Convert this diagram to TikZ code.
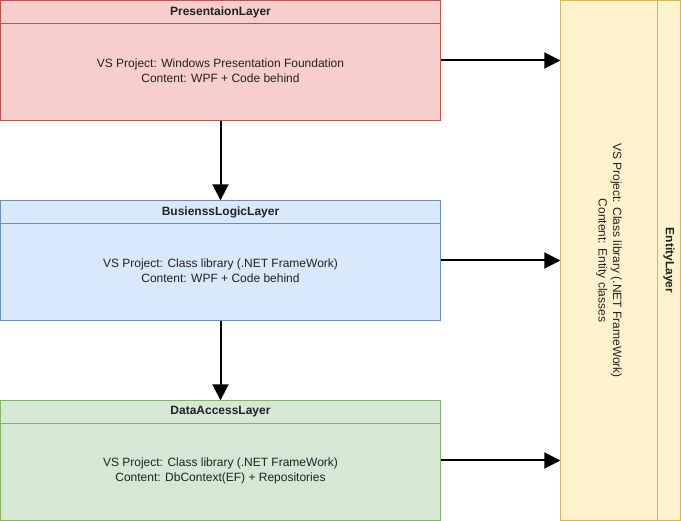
\documentclass[tikz,border=0pt]{standalone}
\usepackage{fontspec}
\setmainfont{Liberation Sans}
\usetikzlibrary{positioning,arrows.meta}

\definecolor{redfill}{HTML}{F8CECC}
\definecolor{redline}{HTML}{B85450}
\definecolor{bluefill}{HTML}{DAE8FC}
\definecolor{blueline}{HTML}{6C8EBF}
\definecolor{greenfill}{HTML}{D5E8D4}
\definecolor{greenline}{HTML}{82B366}
\definecolor{yellowfill}{HTML}{FFF2CC}
\definecolor{yellowline}{HTML}{D6B656}
\definecolor{textgray}{HTML}{222222}

\begin{document}
\begin{tikzpicture}[x=1pt,y=-1pt,
    font=\fontsize{12}{14.5}\selectfont,
    layer/.style={draw,minimum width=440pt,minimum height=120pt,inner sep=0pt},
    title/.style={draw,minimum width=440pt,minimum height=23pt,inner sep=0pt,
      anchor=north,font=\fontsize{12}{14.5}\selectfont\bfseries,text=textgray},
    body/.style={minimum height=94pt,inner sep=0pt,align=center,text=textgray},
    arr/.style={-{Triangle[length=16pt,width=16pt]},line width=2pt}]

  \useasboundingbox (0,0) rectangle (681,521);

  % layers
  \begin{scope}[every node/.style={layer}]
    \node[fill=redfill,draw=redline]     (pl) at (220.5,60.5)  {};
    \node[fill=bluefill,draw=blueline]   (bl) at (220.5,260.5) {};
    \node[fill=greenfill,draw=greenline] (dl) at (220.5,460.5) {};
    \node[fill=yellowfill,draw=yellowline,
          minimum width=120pt,minimum height=520pt] (el) at (620.5,260.5) {};
  \end{scope}

  \node[title,fill=redfill,draw=redline]     (plt) at (pl.north) {PresentaionLayer};
  \node[title,fill=bluefill,draw=blueline]   (blt) at (bl.north) {BusienssLogicLayer};
  \node[title,fill=greenfill,draw=greenline] (dlt) at (dl.north) {DataAccessLayer};

  \node[body,below=0pt of plt] (plb) {VS Project: Windows Presentation Foundation\\Content: WPF + Code behind};
  \node[body,below=0pt of blt] (blb) {VS Project: Class library (.NET FrameWork)\\Content: WPF + Code behind};
  \node[body,below=0pt of dlt] (dlb) {VS Project: Class library (.NET FrameWork)\\Content: DbContext(EF) + Repositories};

  % entity layer, turned on its side
  \node[title,anchor=center,rotate=-90,fill=yellowfill,draw=yellowline,
        minimum width=520pt] (elt) at (669,260.5) {EntityLayer};
  \node[body,rotate=-90,minimum height=0pt] (elb) at (609,260.5)
    {VS Project: Class library (.NET FrameWork)\\Content: Entity classes};

  % connectors
  \draw[arr] (pl) -- (bl);
  \draw[arr] (bl) -- (dl);
  \draw[arr] (pl.east) -- (pl.east -| el.west);
  \draw[arr] (bl.east) -- (bl.east -| el.west);
  \draw[arr] (dl.east) -- (dl.east -| el.west);

\end{tikzpicture}
\end{document}
